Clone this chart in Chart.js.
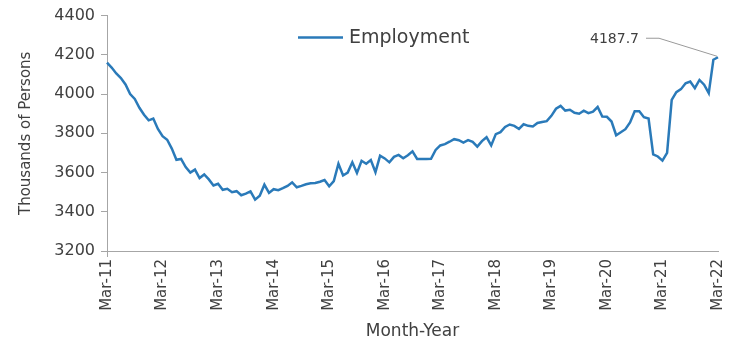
<!DOCTYPE html>
<html>
<head>
<meta charset="utf-8">
<script src="https://cdn.jsdelivr.net/npm/chart.js@4/dist/chart.umd.min.js"></script>
<style>
  html, body { margin: 0; padding: 0; background: #ffffff; }
  #wrap { width: 730px; height: 344px; }
</style>
</head>
<body>
<div id="wrap"><canvas id="chart" width="730" height="344"></canvas></div>
<script>
// Monthly employment, thousands of persons, Mar-2011 .. Mar-2022
const monthNames = ['Jan','Feb','Mar','Apr','May','Jun','Jul','Aug','Sep','Oct','Nov','Dec'];
const startYear = 2011;
const startMonth = 2; // March

const employment = [
  4160, 4135, 4105, 4082, 4049, 4000, 3975, 3930, 3895, 3866, 3875, 3822,
  3785, 3767, 3722, 3665, 3669, 3628, 3600, 3615, 3572, 3590, 3565, 3534,
  3543, 3512, 3517, 3500, 3505, 3484, 3492, 3504, 3462, 3482, 3538, 3496,
  3515, 3510, 3520, 3532, 3550, 3525, 3532, 3540, 3545, 3547, 3553, 3562,
  3530, 3556, 3645, 3585, 3600, 3652, 3598, 3660, 3645, 3664, 3602, 3686,
  3672, 3652, 3680, 3690, 3673, 3688, 3708, 3669, 3669, 3669, 3670, 3715,
  3738, 3745, 3757, 3770, 3765, 3753, 3765, 3756, 3732, 3760, 3780, 3738,
  3796, 3806, 3832, 3845, 3838, 3822, 3846, 3838, 3835, 3853, 3858, 3862,
  3889, 3925, 3940, 3916, 3920, 3905, 3900, 3915, 3903, 3910, 3934, 3885,
  3884, 3860, 3790, 3805, 3821, 3855, 3912, 3912, 3882, 3875, 3693, 3682,
  3661, 3700, 3970, 4010, 4025, 4055, 4064, 4030, 4072, 4048, 4005, 4175,
  4187.7
];

// Category labels: one per month, e.g. "Mar-11"
const months = employment.map((_, i) => {
  const m = (startMonth + i) % 12;
  const y = startYear + Math.floor((startMonth + i) / 12);
  return monthNames[m] + '-' + String(y % 100).padStart(2, '0');
});

const yTicks = [3200, 3400, 3600, 3800, 4000, 4200, 4400];
const seriesName = 'Employment';
const lastValueLabel = '4187.7';

const textColor = '#404040';
const axisColor = '#a6a6a6';
const lineColor = '#2a7ab9';
const fontFamily = '"DejaVu Sans", sans-serif';

// Legend entry drawn inside the plot area, near the top
const legendPlugin = {
  id: 'topLegend',
  afterDraw(chart) {
    const { ctx, chartArea } = chart;
    const y = chartArea.top + 22;
    const x0 = chartArea.left + 191;
    ctx.save();
    ctx.strokeStyle = lineColor;
    ctx.lineWidth = 2.5;
    ctx.beginPath();
    ctx.moveTo(x0, y);
    ctx.lineTo(x0 + 45, y);
    ctx.stroke();
    ctx.fillStyle = textColor;
    ctx.font = '19px ' + fontFamily;
    ctx.textBaseline = 'middle';
    ctx.textAlign = 'left';
    ctx.fillText(seriesName, x0 + 51, y);
    ctx.restore();
  }
};

// Callout for the latest value with a thin leader line
const calloutPlugin = {
  id: 'lastValueCallout',
  afterDatasetsDraw(chart) {
    const { ctx, scales } = chart;
    const last = employment.length - 1;
    const px = scales.x.getPixelForValue(last);
    const py = scales.y.getPixelForValue(employment[last]);
    const tx = px - 79;
    const ty = py - 18;
    ctx.save();
    ctx.strokeStyle = '#9a9a9a';
    ctx.lineWidth = 1;
    ctx.beginPath();
    ctx.moveTo(tx + 7, ty - 1);
    ctx.lineTo(tx + 20, ty - 1);
    ctx.lineTo(px - 1, py - 1);
    ctx.stroke();
    ctx.fillStyle = textColor;
    ctx.font = '14px ' + fontFamily;
    ctx.textAlign = 'right';
    ctx.textBaseline = 'middle';
    ctx.fillText(lastValueLabel, tx, ty);
    ctx.restore();
  }
};

new Chart(document.getElementById('chart'), {
  type: 'line',
  data: {
    labels: months,
    datasets: [{
      label: seriesName,
      data: employment,
      borderColor: lineColor,
      borderWidth: 2.5,
      pointRadius: 0,
      tension: 0,
      fill: false
    }]
  },
  options: {
    responsive: false,
    animation: false,
    layout: { padding: { top: 14, right: 12, left: 0, bottom: 0 } },
    plugins: {
      legend: { display: false },
      tooltip: { enabled: false }
    },
    scales: {
      x: {
        type: 'category',
        offset: false,
        border: { display: true, color: axisColor, width: 1 },
        grid: {
          display: true,
          drawOnChartArea: false,
          drawTicks: true,
          tickLength: 6,
          tickColor: (c) => (c.index % 12 === 0 ? axisColor : 'rgba(0,0,0,0)')
        },
        ticks: {
          autoSkip: false,
          minRotation: 90,
          maxRotation: 90,
          padding: 2,
          color: textColor,
          font: { family: fontFamily, size: 15 },
          callback: (v, i) => (i % 12 === 0 ? months[i] : null)
        },
        title: {
          display: true,
          text: 'Month-Year',
          color: textColor,
          font: { family: fontFamily, size: 17 },
          padding: { top: 0, bottom: 2 }
        },
        afterFit: (s) => { s.height = 93; s.paddingRight = 0; s.paddingLeft = 0; }
      },
      y: {
        min: 3200,
        max: 4400,
        afterBuildTicks: (s) => { s.ticks = yTicks.map(v => ({ value: v })); },
        border: { display: true, color: axisColor, width: 1 },
        grid: {
          display: true,
          drawOnChartArea: false,
          drawTicks: true,
          tickLength: 6,
          tickColor: axisColor
        },
        ticks: {
          padding: 6,
          color: textColor,
          font: { family: fontFamily, size: 16 },
          callback: (v) => String(v)
        },
        title: {
          display: true,
          text: 'Thousands of Persons',
          color: textColor,
          font: { family: fontFamily, size: 15 },
          padding: { top: 17, bottom: 0 }
        },
        afterFit: (s) => { s.width = 107; }
      }
    }
  },
  plugins: [legendPlugin, calloutPlugin]
});
</script>
</body>
</html>
